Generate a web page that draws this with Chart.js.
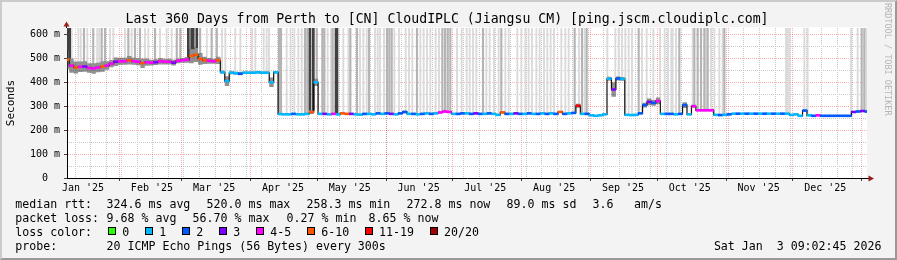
<!DOCTYPE html>
<html><head><meta charset="utf-8">
<script src="https://cdn.jsdelivr.net/npm/chart.js@4.4.1/dist/chart.umd.min.js"></script>
<style>
html,body{margin:0;padding:0;background:#F3F3F3;}
#wrap{position:relative;width:897px;height:260px;overflow:hidden;background:#F3F3F3;}
#c{position:absolute;left:0;top:0;}
.t{position:absolute;white-space:pre;font-family:'DejaVu Sans Mono',monospace;color:#000;line-height:1;}
.lg{font-size:11.6px;}
.row3{position:absolute;left:108.3px;top:226.8px;display:flex;align-items:flex-start;font-family:'DejaVu Sans Mono',monospace;font-size:11.6px;line-height:1;white-space:pre;}
.box{display:inline-block;width:6px;height:6px;border:1px solid #000;margin-top:0px;margin-right:6px;}
.lab{margin-right:16px;}
#frame{position:absolute;left:0;top:0;width:893px;height:256px;border-style:solid;border-width:2px;border-color:#CBCBCB #999999 #999999 #CBCBCB;pointer-events:none;}
#wm{position:absolute;left:883.3px;top:3px;writing-mode:vertical-rl;font-family:'DejaVu Sans Mono',monospace;font-size:8.5px;line-height:8.5px;color:#B5B5B5;white-space:pre;}
</style></head>
<body>
<div id="wrap">
<canvas id="c" width="897" height="260"></canvas>
<div class="t" style="left:0;width:894px;text-align:center;top:12.3px;font-size:13.2px;">Last 360 Days from Perth to [CN] CloudIPLC (Jiangsu CM) [ping.jscm.cloudiplc.com]</div>
<div id="wm">RRDTOOL / TOBI OETIKER</div>
<div class="t lg" style="left:15.3px;top:199.4px">median rtt:</div>
<div class="t lg" style="left:106.6px;top:199.4px">324.6 ms avg</div>
<div class="t lg" style="left:206.6px;top:199.4px">520.0 ms max</div>
<div class="t lg" style="left:306.6px;top:199.4px">258.3 ms min</div>
<div class="t lg" style="left:406.6px;top:199.4px">272.8 ms now</div>
<div class="t lg" style="left:506.6px;top:199.4px">89.0 ms sd</div>
<div class="t lg" style="left:592.6px;top:199.4px">3.6</div>
<div class="t lg" style="left:634px;top:199.4px">am/s</div>
<div class="t lg" style="left:15.3px;top:213.2px">packet loss:</div>
<div class="t lg" style="left:106.6px;top:213.2px">9.68 % avg</div>
<div class="t lg" style="left:192.6px;top:213.2px">56.70 % max</div>
<div class="t lg" style="left:286.6px;top:213.2px">0.27 % min</div>
<div class="t lg" style="left:368.6px;top:213.2px">8.65 % now</div>
<div class="t lg" style="left:15.3px;top:226.8px">loss color:</div>
<div class="row3" id="row3"></div>
<div class="t lg" style="left:15.3px;top:240.6px">probe:</div>
<div class="t lg" style="left:106.6px;top:240.6px">20 ICMP Echo Pings (56 Bytes) every 300s</div>
<div class="t lg" style="right:15.6px;top:240.6px">Sat Jan  3 09:02:45 2026</div>
<div id="frame"></div>
</div>
<script>
// ---- data (x = days since Jan 8 2025 09:02:45, one sample every 2 days) ----
const sampleStep = 2;
const medianRtt = [
495,470,462,465,466,460,458,462,466,470,
478,486,488,488,492,488,486,480,484,482,
484,488,486,486,482,490,492,494,510,515,
498,492,490,488,492,442,405,440,438,436,
440,440,440,442,440,440,400,442,267,266,
266,268,266,266,268,275,400,268,268,266,
268,266,270,268,268,266,265,268,268,266,
270,268,270,268,266,270,276,268,268,266,
268,270,268,270,274,278,276,268,268,270,
270,268,270,268,268,270,268,264,274,268,
268,270,268,268,270,268,268,270,268,270,
268,276,268,270,272,302,268,268,262,260,
262,266,415,370,416,414,264,263,264,270,
305,318,314,322,268,268,268,266,268,305,
266,300,283,283,283,283,264,263,264,266,
269,269,269,269,269,269,269,269,269,269,
269,269,269,264,266,260,282,262,260,262,
260,260,260,260,260,260,260,276,278,280,
278];
const lossIdx = [
5,4,5,4,3,4,4,4,5,4,
4,3,4,4,5,4,4,5,4,4,
3,4,4,4,3,4,4,4,5,5,
5,5,4,4,5,1,1,1,1,2,
1,1,1,1,1,1,1,1,1,1,
1,2,1,1,1,5,1,1,3,1,
4,1,5,5,3,1,1,2,1,1,
2,1,2,3,1,2,2,1,2,1,
2,1,2,1,4,4,4,1,2,2,
1,2,3,2,1,2,1,1,5,2,
1,3,2,1,2,1,2,1,2,1,
2,5,2,1,2,6,1,2,1,1,
1,1,1,3,2,1,1,1,1,2,
2,3,2,4,1,2,2,1,2,2,
1,4,4,4,4,4,1,2,1,2,
1,2,1,2,1,2,1,2,1,2,
1,2,1,1,1,1,2,1,2,4,
2,2,2,2,2,2,2,3,2,3,
2];
const smokeSpread = [
40,30,25,22,22,20,22,20,22,18,
15,18,15,15,18,15,15,20,15,12,
12,14,12,12,12,10,10,12,30,30,
25,15,12,10,15,6,20,6,6,6,
5,5,5,5,5,5,20,5,3,3,
3,3,3,3,3,8,15,3,3,3,
3,3,3,3,3,3,3,3,3,3,
3,3,3,3,3,3,5,3,3,3,
3,3,3,3,3,5,3,3,3,3,
3,3,3,3,3,3,3,3,3,3,
3,3,3,3,3,3,3,3,3,3,
3,3,3,3,3,8,3,3,3,3,
3,3,8,30,8,8,3,3,3,3,
10,14,12,14,3,3,3,3,3,12,
3,6,4,4,4,4,3,3,3,3,
3,3,3,3,3,3,3,3,3,3,
3,3,3,3,3,3,3,3,3,3,
3,3,3,3,3,3,3,4,4,4,
4];
// days of off-scale smoke columns, by shade
const spikeLight = [2.1,5.1,6.2,9.15,13.6,14.5,19.35,20.85,26.1,29.1,35.1,36.6,41.85,44.85,47.1,62.9,
69.75,71.25,75.7,78,83.25,84.75,88.5,89.85,90.9,98.85,100.6,102.3,104.1,105.6,117.3,118.8,124.35,126.6,131.85,133.35,
134.85,138.6,139.8,140.85,142.65,147.3,149.4,152.4,153.9,155.4,159,160.5,162,163.5,165.9,167.4,175.5,
177.6,179.85,181.2,182.7,184.2,188.7,190.2,192.15,194.25,197.25,198.75,202.65,204.45,206.25,207.75,
209.25,211.2,212.7,214.65,216.15,217.65,219.15,222.45,224.25,225.75,230.4,232.95,243.15,246.75,248.25,
249.75,251.25,252.75,254.25,258.75,260.85,263.85,266.85,268.95,270.45,271.95,272.55,274.05,281.55,
287.55,289.8,291.3,293.55,295.05,323.55,324.3,325.05,331.8,333.3,352.8,355.8,359.7];
const spikeMid = [7.65,11.8,15.6,17.1,27.6,30.6,32.85,39.6,49.4,51,59.9,65.1,67.4,95.4,96.3,107.1,
108.15,112.35,114.9,115.8,119.55,127.5,130.5,135.9,144,145.05,146.1,157.5,168.9,170.1,171.3,172.5,
187.2,195.45,228.45,231.75,233.85,257.25,275.55,282.3,283.8,285.3,286.8,288.3,295.8,357.6,358.8];
const spikeDark = [0.6,1.2,54.6,56.1,56.8,58.4,109.35,110.85,121.05,121.5];

const monthLabels = ["Jan '25","Feb '25","Mar '25","Apr '25","May '25","Jun '25",
                     "Jul '25","Aug '25","Sep '25","Oct '25","Nov '25","Dec '25"];
const yTickValues = [0,100,200,300,400,500,600];
const yTickLabels = ["0  ","100 m","200 m","300 m","400 m","500 m","600 m"];
const yMinorValues = [50,150,250,350,450,550];
const lossColors = ['#26ff00','#00b8ff','#0059ff','#7e00ff','#ff00ff','#ff5500','#ff0000','#a10000'];
const lossNames = ['0','1','2','3','4-5','6-10','11-19','20/20'];

// ---- time helpers ----
const START = Date.UTC(2025,0,8,9,2,45), DAY = 86400000, SPAN = 360, YMAX = 627;
const monthStartDays = [], monthLabelDays = [], weekDays = [];
for (let m = 1; m <= 12; m++) monthStartDays.push((Date.UTC(2025,m,1) - START)/DAY);
for (let m = 0; m < 12; m++) monthLabelDays.push((Date.UTC(2025,m,1) - START)/DAY + 14.6);
for (let t = Date.UTC(2025,0,12); (t-START)/DAY < SPAN; t += 7*DAY) weekDays.push((t-START)/DAY);

// legend row 3
const r3 = document.getElementById('row3');
lossNames.forEach((n,i)=>{
  const b = document.createElement('span'); b.className='box'; b.style.background = lossColors[i]; r3.appendChild(b);
  const l = document.createElement('span'); l.className='lab'; l.textContent = n; r3.appendChild(l);
});

// ---- datasets ----
const pts = medianRtt.map((v,i)=>({x:i*sampleStep, y:v}));
const lo = medianRtt.map((v,i)=>({x:i*sampleStep, y:v - smokeSpread[i]}));
const hi = medianRtt.map((v,i)=>({x:i*sampleStep, y:v + smokeSpread[i]}));
function baseAt(d){ const i = Math.min(medianRtt.length-1, Math.max(0, Math.round(d/sampleStep))); return medianRtt[i] + smokeSpread[i]; }
const spikeData = arr => arr.map(d=>({x:d, y:[baseAt(d), YMAX]}));

Chart.defaults.font.family = "'DejaVu Sans Mono', monospace";
Chart.defaults.color = '#000';

const deco = {
  id:'deco',
  beforeDraw(c){
    const {ctx, chartArea:a} = c;
    ctx.save(); ctx.fillStyle = '#fff';
    ctx.fillRect(a.left, a.top - 0.7, a.right - a.left, a.bottom - a.top + 0.7);
    ctx.restore();
  },
  afterDraw(c){
    const {ctx, chartArea:a} = c;
    ctx.save();
    ctx.strokeStyle = '#000'; ctx.lineWidth = 1;
    ctx.beginPath(); ctx.moveTo(a.left - 0.5, a.top); ctx.lineTo(a.left - 0.5, a.top - 3); ctx.stroke();
    ctx.beginPath(); ctx.moveTo(a.right, a.bottom + 0.5); ctx.lineTo(a.right + 2, a.bottom + 0.5); ctx.stroke();
    ctx.fillStyle = '#9A1C1C';
    ctx.beginPath(); ctx.moveTo(a.left - 0.5, a.top - 6.5); ctx.lineTo(a.left - 3.5, a.top - 1.5); ctx.lineTo(a.left + 2.5, a.top - 1.5); ctx.closePath(); ctx.fill();
    ctx.beginPath(); ctx.moveTo(a.right + 7, a.bottom + 0.5); ctx.lineTo(a.right + 1.5, a.bottom - 2.5); ctx.lineTo(a.right + 1.5, a.bottom + 3.5); ctx.closePath(); ctx.fill();
    ctx.restore();
  }
};

new Chart(document.getElementById('c'), {
  type: 'line',
  data: { datasets: [
    { type:'line', data: pts, showLine:false, pointStyle:'line', pointRadius:2.4, pointHoverRadius:2.4,
      pointBorderWidth:2.6, pointHoverBorderWidth:2.6, pointBorderColor: lossIdx.map(k=>lossColors[k]), order:0 },
    { type:'line', data: pts, stepped:'middle', borderColor:'#111', borderWidth:1.2, pointRadius:0, fill:false, order:1 },
    { type:'line', data: lo, stepped:'middle', borderWidth:0, pointRadius:0, fill:false, order:2 },
    { type:'line', data: hi, stepped:'middle', borderWidth:0, pointRadius:0, fill:'-1', backgroundColor:'rgba(70,70,70,0.6)', order:2 },
    { type:'bar', data: spikeData(spikeDark), backgroundColor:'#404040', barThickness:2, grouped:false, order:3 },
    { type:'bar', data: spikeData(spikeMid), backgroundColor:'#B4B4B4', barThickness:1.5, grouped:false, order:4 },
    { type:'bar', data: spikeData(spikeLight), backgroundColor:'#DADADA', barThickness:1.2, grouped:false, order:5 }
  ]},
  options: {
    responsive:false, animation:false, devicePixelRatio:1, events:[],
    layout:{ padding:{ left:0, top:28, right:30, bottom:0 } },
    plugins:{ legend:{display:false}, tooltip:{enabled:false} },
    scales: {
      xWeek: { type:'linear', position:'bottom', weight:0, min:0, max:SPAN, z:1, offset:false,
        afterBuildTicks: s => { s.ticks = weekDays.map(v=>({value:v})); },
        afterFit: s => { s.height = 0; },
        grid:{ color:'#C8C8C8', lineWidth:1, drawTicks:false, offset:false, borderDash:[1,1] },
        border:{ display:false, dash:[1,1] }, ticks:{ display:false } },
      yMinor: { type:'linear', position:'left', weight:1, min:0, max:YMAX, z:1,
        afterBuildTicks: s => { s.ticks = yMinorValues.map(v=>({value:v})); },
        afterFit: s => { s.width = 0; },
        grid:{ color:'#C8C8C8', lineWidth:1, drawTicks:false, borderDash:[1,1] },
        border:{ display:false, dash:[1,1] }, ticks:{ display:false } },
      xMonth: { type:'linear', position:'bottom', weight:0, min:0, max:SPAN, z:2, offset:false,
        afterBuildTicks: s => { s.ticks = monthStartDays.map(v=>({value:v})); },
        afterFit: s => { s.height = 0; },
        grid:{ color:'rgba(255,0,0,0.32)', lineWidth:1, drawTicks:true, tickLength:3, tickColor:'#444', tickWidth:1, tickBorderDash:[], offset:false, borderDash:[1,1] },
        border:{ display:false, dash:[1,1] }, ticks:{ display:false } },
      y: { type:'linear', position:'left', weight:0, min:0, max:YMAX, z:2,
        afterBuildTicks: s => { s.ticks = yTickValues.map(v=>({value:v})); },
        afterFit: s => { s.width = 67; },
        grid:{ color:'rgba(255,0,0,0.32)', lineWidth:1, drawTicks:true, tickLength:3, tickColor:'#444', tickWidth:1, tickBorderDash:[], borderDash:[1,1] },
        border:{ display:true, color:'#000', width:1, dash:[1,1] },
        title:{ display:true, text:'Seconds', color:'#000', font:{size:11}, padding:{top:4.2, bottom:0} },
        ticks:{ padding:4, color:'#000', font:{size:10}, autoSkip:false, callback:(v,i)=>yTickLabels[i] } },
      x: { type:'linear', position:'bottom', weight:10, min:0, max:SPAN, offset:false,
        afterBuildTicks: s => { s.ticks = monthLabelDays.map(v=>({value:v})); },
        afterFit: s => { s.height = 82; },
        grid:{ display:false, drawTicks:false, offset:false },
        border:{ display:true, color:'#000', width:1 },
        ticks:{ padding:4, color:'#000', font:{size:10}, autoSkip:false, maxRotation:0, minRotation:0, callback:(v,i)=>monthLabels[i] } }
    }
  },
  plugins:[deco]
});
</script>
</body></html>
